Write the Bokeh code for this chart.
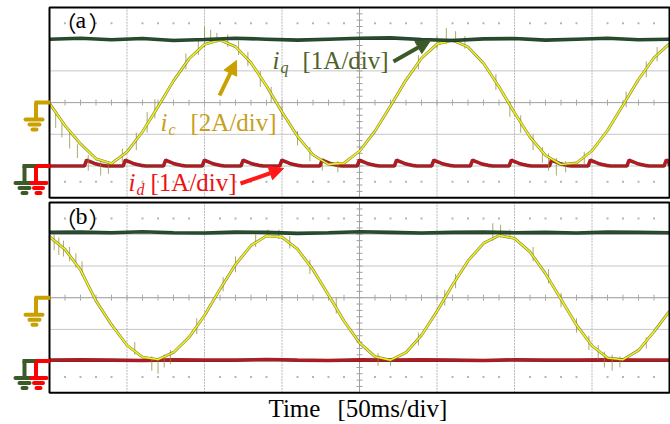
import numpy as np
from bokeh.plotting import figure
from bokeh.models import Range1d, Arrow, NormalHead
from bokeh.core.properties import value
from bokeh.embed import file_html
from bokeh.resources import INLINE

# ---------------- data ----------------
# time axis: 50 ms/div, 8 divisions shown
t_ms = list(range(0, 401, 10))
# capacitor current i_c [A], 2 A/div
ic_a = [-0.05, -1.45, -2.6, -3.55, -3.85, -3.11, -1.84, -0.26, 1.37, 2.76, 3.67, 3.95, 3.53, 2.51,
        1.05, -0.59, -2.13, -3.30, -3.90, -3.82, -3.07, -1.80, -0.21, 1.42, 2.80, 3.69, 3.94, 3.51,
        2.48, 1.00, -0.64, -2.17, -3.33, -3.91, -3.81, -3.04, -1.76, -0.16, 1.46, 2.83, 3.71]
ic_b = [3.85, 3.05, 1.75, -0.2, -1.7, -3.0, -3.75, -3.9, -3.45, -2.5, -1.12, 0.54, 2.09, 3.29,
        3.90, 3.82, 3.06, 1.77, 0.17, -1.47, -2.85, -3.72, -3.94, -3.46, -2.37, -0.86, 0.80, 2.32,
        3.43, 3.93, 3.74, 2.89, 1.52, -0.10, -1.72, -3.03, -3.80, -3.91, -3.32, -2.14, -0.85]
# q-axis current i_q [A], 1 A/div
t_slow = list(range(0, 401, 20))
iq_a = [4.0, 4.03, 3.98, 4.02, 3.96, 3.99, 4.03, 4.0, 3.97, 4.0, 4.03, 4.04, 3.99, 3.96, 4.01,
        4.02, 3.97, 4.0, 4.03, 3.98, 4.0]
iq_b = [4.06, 4.07, 4.05, 4.08, 4.05, 4.04, 4.07, 4.06, 4.03, 4.05, 4.08, 4.06, 4.04, 4.06,
        4.07, 4.05, 4.06, 4.04, 4.07, 4.06, 4.05]
# d-axis current i_d [A], 1 A/div
id_a_bump_t = [24, 49, 75, 100, 125, 150, 176, 200, 224, 248, 273, 298, 324, 349, 374, 398]
id_bump_dt = [-1.5, 0, 1.5, 3, 5, 7.5, 10, 13]
id_bump_val = [0.0, 0.19, 0.15, 0.12, 0.08, 0.05, 0.02, 0.0]
id_b = [0.03, 0.04, 0.03, 0.02, 0.04, 0.03, 0.03, 0.05, 0.03, 0.02, 0.04, 0.03, 0.04, 0.03,
        0.02, 0.04, 0.03, 0.03, 0.04, 0.03, 0.03]
# switching spikes on i_c: time [ms], low [A], high [A]
spk_a_t = [4, 8, 13, 18, 25, 33, 38, 47, 56, 63, 68, 88, 96, 100, 104, 108, 115, 122, 128, 136,
           143, 150, 160, 168, 176, 186, 238, 250, 256, 262, 268, 288, 297, 304, 312, 318, 322,
           327, 333, 345, 372, 385, 392]
spk_a_lo = [-1.6, -2.2, -2.9, -3.5, -4.3, -4.6, -4.5, -3.8, -3.0, -1.9, -1.0, 2.1, 3.0, 3.5, 3.7,
            3.8, 3.5, 3.0, 2.3, 1.0, 0.0, -1.1, -2.7, -3.7, -4.3, -4.4, 2.1, 3.4, 3.7, 3.8, 3.4,
            0.8, -0.9, -1.9, -3.0, -3.8, -4.3, -4.6, -4.4, -3.9, -0.3, 1.6, 2.6]
spk_a_hi = [-0.7, -1.3, -1.9, -2.6, -3.3, -3.7, -3.7, -2.9, -1.9, -0.6, 0.2, 3.1, 4.0, 4.8, 4.6,
            4.4, 4.3, 3.9, 3.2, 2.0, 1.0, -0.2, -1.8, -2.8, -3.5, -3.7, 3.0, 4.2, 4.7, 4.5, 4.2,
            1.8, 0.1, -0.8, -2.0, -2.8, -3.2, -3.5, -3.7, -3.1, 0.7, 2.6, 3.5]
spk_b_t = [3, 6, 9, 13, 17, 21, 55, 66, 70, 74, 78, 95, 112, 120, 133, 141, 148, 155, 168, 185,
           212, 220, 238, 255, 262, 286, 291, 297, 312, 322, 330, 340, 348, 354, 358, 363, 368, 385]
spk_b_lo = [3.0, 2.7, 2.6, 2.3, 1.9, 1.4, -3.6, -4.6, -4.8, -4.4, -4.2, -2.3, 0.4, 1.6, 3.2, 3.8,
            3.7, 3.1, 1.5, -1.0, -4.3, -4.3, -3.0, -0.5, 0.6, 3.6, 3.8, 3.7, 2.3, 0.9, -0.6, -2.2,
            -3.3, -3.9, -4.4, -4.6, -4.4, -3.2]
spk_b_hi = [4.0, 3.8, 3.6, 3.2, 2.8, 2.3, -2.8, -3.7, -3.8, -3.6, -3.3, -1.3, 1.3, 2.6, 4.0, 4.3,
            4.3, 3.9, 2.4, 0.0, -3.5, -3.8, -2.2, 0.5, 1.5, 4.7, 4.6, 4.3, 3.2, 1.8, 0.3, -1.3,
            -2.4, -3.0, -3.4, -3.6, -3.7, -2.5]

# ---------------- layout constants ----------------
W, H = 670, 424
PXX = 1.55      # px per ms
PXY = 31.7      # px per division
X0 = 49         # px of t = 0
BASE = {"a": 7.155, "b": 1.0}   # bottom of each screen in divisions
IC_GND, IQ_GND = 3.0, 1.0
IC_SCALE = 2.0  # A/div

def dx(px):
    return px / PXX

def dy(px):
    return px / PXY

GOLD = "#c9a000"
GREEN_T = "#4f6228"
SERIF = value("Liberation Serif")
CJK = value("Noto Sans CJK SC")

p = figure(width=W, height=H, x_range=Range1d(-dx(X0), dx(W - X0)), y_range=Range1d(0, dy(H)),
           output_backend="svg", toolbar_location=None, x_axis_type=None, y_axis_type=None,
           min_border=0)
p.grid.visible = False
p.outline_line_color = None
p.background_fill_color = "white"
p.border_fill_color = "white"

for key, ic, iq, tag in (("a", ic_a, iq_a, "a"), ("b", ic_b, iq_b, "b")):
    b = BASE[key]
    # grid
    hy = [b + k for k in range(1, 6)]
    p.segment(x0=[0] * 5, x1=[400] * 5, y0=hy, y1=hy, line_color="#c6c6c6", line_width=1)
    vx = [50 * k for k in range(1, 8)]
    p.segment(x0=vx, x1=vx, y0=[b] * 7, y1=[b + 6] * 7, line_color="#b8b8b8", line_width=1,
              line_dash="2 1")
    p.segment(x0=[200], x1=[200], y0=[b], y1=[b + 6], line_color="#a0a0a0", line_width=1)
    p.segment(x0=[0], x1=[400], y0=[b + 3], y1=[b + 3], line_color="#a8a8a8", line_width=1)
    # centre ticks
    ty = [b + 0.2 * k for k in range(1, 30)]
    p.segment(x0=[200 - dx(3)] * len(ty), x1=[200 + dx(3)] * len(ty), y0=ty, y1=ty,
              line_color="#a0a0a0", line_width=1)
    tx = [10 * k for k in range(1, 40)]
    p.segment(x0=tx, x1=tx, y0=[b + 3 - dy(3)] * len(tx), y1=[b + 3 + dy(3)] * len(tx),
              line_color="#a8a8a8", line_width=1)
    # dotted rows near edges
    dots = [x for x in tx if x % 50]
    p.scatter(x=dots + dots, y=[b + 0.5] * len(dots) + [b + 5.5] * len(dots), size=2,
              marker="square", color="#b5b5b5", line_width=0)

    # i_d trace
    if key == "a":
        xs, ys = [0], [0.0]
        for bt in id_a_bump_t:
            for d, v in zip(id_bump_dt, id_bump_val):
                if 0 <= bt + d <= 400:
                    xs.append(bt + d)
                    ys.append(v)
        xs.append(400)
        ys.append(0.0)
    else:
        xs, ys = t_slow, id_b
    yd = [b + IQ_GND + v for v in ys]
    p.line(xs, yd, line_color="#4a0a0a", line_width=3.6, line_alpha=0.8)
    p.line(xs, yd, line_color="#c8101a", line_width=2.2)

    # i_c trace with spikes
    yc = [b + IC_GND + v / IC_SCALE for v in ic]
    st, lo, hi = (spk_a_t, spk_a_lo, spk_a_hi) if key == "a" else (spk_b_t, spk_b_lo, spk_b_hi)
    p.segment(x0=st, x1=st, y0=[b + IC_GND + v / IC_SCALE for v in lo],
              y1=[b + IC_GND + v / IC_SCALE for v in hi], line_color="#8d8d3a", line_alpha=0.75,
              line_width=1)
    p.line(t_ms, yc, line_color="#66662e", line_width=2.8, line_alpha=0.8)
    p.line(t_ms, yc, line_color="#f0f014", line_width=1.6)

    # i_q trace
    yq = [b + IQ_GND + v for v in iq]
    p.line(t_slow, yq, line_color="#12301a", line_width=3.6, line_alpha=0.9)
    p.line(t_slow, yq, line_color="#26502a", line_width=1.4)

    # frame
    p.quad(left=[0], right=[400], bottom=[b], top=[b + 6], fill_color=None, line_color="black",
           line_width=2)

    # panel tag  （a） / （b）
    ty0 = b + 6 - dy(14)
    p.text(x=[dx(76 - X0)], y=[ty0], text=["（"], text_font=CJK, text_font_size="22px",
           text_baseline="middle", text_align="right", text_color="black")
    p.text(x=[dx(75 - X0)], y=[ty0 + dy(1)], text=[tag], text_font=SERIF, text_font_size="24px",
           text_baseline="middle", text_align="left", text_color="black")
    p.text(x=[dx(88 - X0)], y=[ty0], text=["）"], text_font=CJK, text_font_size="22px",
           text_baseline="middle", text_align="left", text_color="black")

    # ground markers
    g = b + IC_GND
    p.segment(x0=[dx(-15), dx(-13.5)], x1=[dx(1), dx(-13.5)], y0=[g, g], y1=[g, g - dy(17)],
              line_color=GOLD, line_width=4)
    p.segment(x0=[dx(-24), dx(-20), dx(-17)], x1=[dx(-7), dx(-10), dx(-13)],
              y0=[g - dy(17), g - dy(22), g - dy(27)], y1=[g - dy(17), g - dy(22), g - dy(27)],
              line_color=GOLD, line_width=4, line_cap="round")
    g = b + IQ_GND
    p.segment(x0=[dx(-27), dx(-25)], x1=[dx(-12), dx(-25)], y0=[g, g], y1=[g, g - dy(17)],
              line_color="#3c5a28", line_width=4)
    p.segment(x0=[dx(-34), dx(-30), dx(-27)], x1=[dx(-16), dx(-20), dx(-23)],
              y0=[g - dy(17), g - dy(22), g - dy(27)], y1=[g - dy(17), g - dy(22), g - dy(27)],
              line_color="#3c5a28", line_width=4, line_cap="round")
    p.segment(x0=[dx(-13), dx(-13.5)], x1=[dx(1), dx(-13.5)], y0=[g, g], y1=[g, g - dy(17)],
              line_color="#ff0000", line_width=4)
    p.segment(x0=[dx(-18), dx(-15.5), dx(-13)], x1=[dx(-3), dx(-6.5), dx(-9)],
              y0=[g - dy(17), g - dy(22), g - dy(27)], y1=[g - dy(17), g - dy(22), g - dy(27)],
              line_color="#ff0000", line_width=4, line_cap="round")

# ---------------- annotations on panel (a) ----------------
def py(px):
    return dy(H - px)

def label(xi, ypx, sub, rest, color, gap):
    p.text(x=[dx(xi - X0)], y=[py(ypx)], text=["i"], text_font=SERIF, text_font_style="italic",
           text_font_size="25px", text_baseline="middle", text_color=color)
    p.text(x=[dx(xi - X0 + 8)], y=[py(ypx + 7)], text=[sub], text_font=SERIF,
           text_font_style="italic", text_font_size="16px", text_baseline="middle",
           text_color=color)
    p.text(x=[dx(xi - X0 + gap)], y=[py(ypx)], text=[rest],
           text_font=SERIF, text_font_size="25px", text_baseline="middle", text_color=color)

label(272, 60, "q", "[1A/div]", GREEN_T, 30)
label(160, 122, "c", "[2A/div]", "#c8a020", 30)
label(128, 182, "d", "[1A/div]", "#ee1111", 22)

p.add_layout(Arrow(end=NormalHead(size=14, fill_color="#3c5a28", line_color="#3c5a28"),
                   x_start=dx(393 - X0), y_start=py(61), x_end=dx(430 - X0), y_end=py(40),
                   line_color="#3c5a28", line_width=4))
p.add_layout(Arrow(end=NormalHead(size=14, fill_color=GOLD, line_color=GOLD),
                   x_start=dx(219 - X0), y_start=py(95), x_end=dx(236 - X0), y_end=py(60),
                   line_color=GOLD, line_width=4))
p.add_layout(Arrow(end=NormalHead(size=14, fill_color="#ff1a1a", line_color="#ff1a1a"),
                   x_start=dx(240 - X0), y_start=py(183), x_end=dx(283 - X0), y_end=py(168),
                   line_color="#ff1a1a", line_width=4))

p.text(x=[dx(268 - X0), dx(337 - X0)], y=[py(408), py(408)], text=["Time", "[50ms/div]"],
       text_font=SERIF, text_font_size="25px", text_baseline="middle", text_align="left",
       text_color="black")

open("out.html", "w").write(file_html(p, INLINE))
